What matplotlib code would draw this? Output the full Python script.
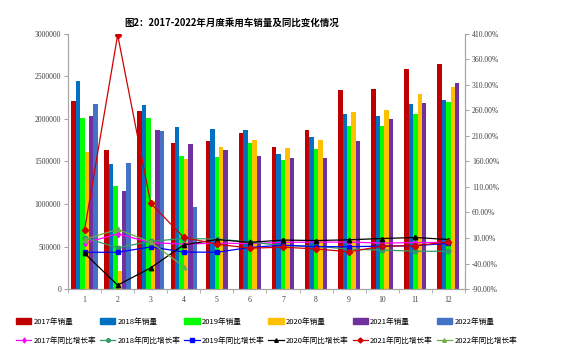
import numpy as np
import matplotlib.pyplot as plt
from matplotlib.ticker import FuncFormatter

plt.rcParams['font.family'] = ['Noto Sans CJK SC', 'DejaVu Sans']

months = ['1', '2', '3', '4', '5', '6', '7', '8', '9', '10', '11', '12']
nan = np.nan

# monthly passenger car sales
sales_2017 = [2211000, 1630000, 2090000, 1720000, 1745000, 1831000, 1674000, 1870000, 2341000, 2349000, 2584000, 2647000]
sales_2018 = [2447000, 1470000, 2170000, 1900000, 1882000, 1870000, 1584000, 1784000, 2059000, 2039000, 2173000, 2224000]
sales_2019 = [2010000, 1210000, 2010000, 1570000, 1553000, 1721000, 1521000, 1647000, 1921000, 1921000, 2055000, 2204000]
sales_2020 = [1608000, 215000, 1035000, 1530000, 1667000, 1757000, 1659000, 1749000, 2082000, 2106000, 2294000, 2373000]
sales_2021 = [2040000, 1150000, 1870000, 1700000, 1639000, 1565000, 1545000, 1545000, 1745000, 2004000, 2188000, 2420000]
sales_2022 = [2180000, 1480000, 1860000, 960000, nan, nan, nan, nan, nan, nan, nan, nan]

# year-on-year growth, percent
yoy_2017 = [0.0, 18.0, 1.0, -2.0, 0.0, -1.0, 1.5, 2.0, 2.0, 0.0, 1.0, 1.5]
yoy_2018 = [10.5, -9.0, 3.5, 9.0, 8.0, 2.0, -5.0, -6.0, -12.0, -13.5, -16.0, -16.0]
yoy_2019 = [-18.0, -18.0, -7.5, -17.5, -18.0, -8.5, -4.0, -7.0, -7.0, -6.0, -5.0, -0.5]
yoy_2020 = [-20.0, -82.5, -48.5, -3.5, 7.0, 1.5, 6.0, 5.0, 6.5, 9.0, 11.0, 7.0]
yoy_2021 = [26.0, 408.0, 78.0, 11.0, -2.0, -10.0, -8.0, -11.5, -17.0, -6.0, -5.0, 2.5]
yoy_2022 = [7.0, 27.0, 2.0, -46.0, nan, nan, nan, nan, nan, nan, nan, nan]

years = ['2017', '2018', '2019', '2020', '2021', '2022']
sales = [sales_2017, sales_2018, sales_2019, sales_2020, sales_2021, sales_2022]
yoy = [yoy_2017, yoy_2018, yoy_2019, yoy_2020, yoy_2021, yoy_2022]
bar_colors = ['#C00000', '#0070C0', '#00FF00', '#FFC000', '#7030A0', '#4472C4']
line_colors = ['#FF00FF', '#339966', '#0000FF', '#000000', '#D00000', '#70AD47']
line_markers = ['d', 'o', 's', '^', 'D', '^']

fig = plt.figure(figsize=(5.67, 3.61), dpi=100)
ax = fig.add_axes([0.12, 0.1994, 0.7, 0.7066])
ax2 = ax.twinx()

x = np.arange(1, len(months) + 1)
bw = 0.8 / 6

# bars, centred on the months that have data
bar_handles = []
for m in range(len(months)):
    present = [i for i in range(len(years)) if not np.isnan(sales[i][m])]
    start = x[m] - bw * len(present) / 2 + bw / 2
    for k, i in enumerate(present):
        ax.bar(start + k * bw, sales[i][m], width=bw, color=bar_colors[i], linewidth=0)
for i in range(len(years)):
    bar_handles.append(plt.Rectangle((0, 0), 1, 1, color=bar_colors[i]))

line_handles = []
for i in range(len(years)):
    h, = ax2.plot(x, yoy[i], color=line_colors[i], marker=line_markers[i], ms=3.2, lw=0.9)
    line_handles.append(h)

ax.set_xlim(0.5, 12.5)
ax.set_ylim(0, 3000000)
ax.set_yticks(np.arange(0, 3000001, 500000))
ax.yaxis.set_major_formatter(FuncFormatter(lambda v, p: '%d' % v))
ax2.set_ylim(-90, 410)
ax2.set_yticks(np.arange(-90, 411, 50))
ax2.yaxis.set_major_formatter(FuncFormatter(lambda v, p: '%.2f%%' % v))

ax.set_xticks(x)
ax.set_xticklabels(months)
ax.set_xticks(np.arange(0.5, 12.6, 1), minor=True)
ax.tick_params(axis='x', which='major', length=0, pad=5)
ax.tick_params(axis='x', which='minor', length=3, color='#A6A6A6')

for a in (ax, ax2):
    a.spines['top'].set_visible(False)
    for s in ('left', 'right', 'bottom'):
        a.spines[s].set_color('#A6A6A6')
    a.tick_params(axis='y', length=3, color='#A6A6A6', pad=2)
for lab in ax.get_xticklabels() + ax.get_yticklabels() + ax2.get_yticklabels():
    lab.set_family(['Liberation Serif'])
    lab.set_fontsize(5.5)
    lab.set_color('#404040')

fig.suptitle('图2：2017-2022年月度乘用车销量及同比变化情况', x=0.408, y=0.952,
             fontsize=6.8, fontweight='bold')

handles = []
labels = []
for i in range(len(years)):
    handles += [bar_handles[i], line_handles[i]]
    labels += [years[i] + '年销量', years[i] + '年同比增长率']
fig.legend(handles, labels, loc='lower center', bbox_to_anchor=(0.47, 0.025), ncol=6,
           frameon=False, fontsize=5.5, handlelength=2.0, handletextpad=0.3,
           columnspacing=0.5, labelspacing=1.5, markerscale=0.8)

plt.savefig('out.png', dpi=100)
